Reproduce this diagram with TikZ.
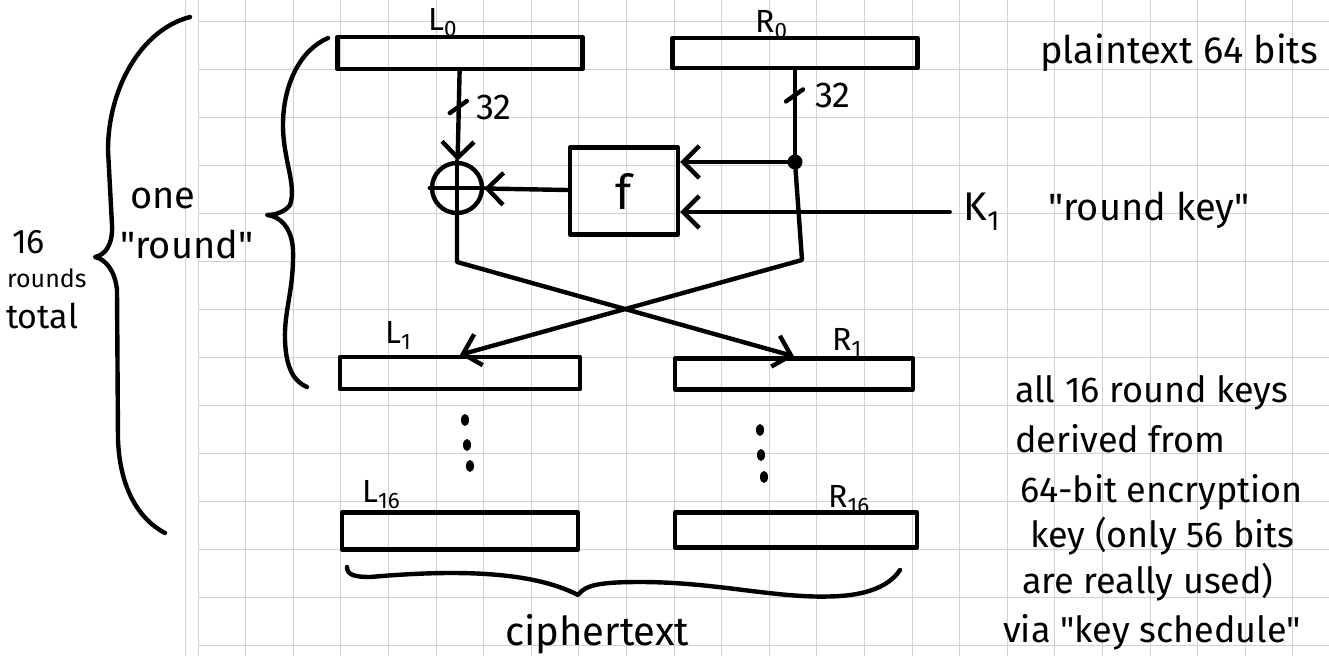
\documentclass[tikz,border=0pt]{standalone}
\usepackage{fontspec}
\setmainfont{Fira Sans}
\usetikzlibrary{arrows.meta, positioning}

\tikzset{
  hand/.style={line width=4.4pt, line cap=round, line join=round},
  reg/.style={draw, hand, minimum width=240pt, minimum height=32pt, inner sep=0pt},
  gridline/.style={black!18, line width=1pt},
  lbl/.style={font=\fontsize{32}{36}\selectfont, inner sep=0pt, anchor=base west},
  note/.style={font=\fontsize{36}{48}\selectfont, inner sep=0pt, anchor=base west},
}

\begin{document}
\begin{tikzpicture}[x=1pt, y=-1pt, >={Straight Barb[length=16pt, width=32pt]}]
  \fill[white] (0,0) rectangle (1329,656);
  \useasboundingbox (0,0) rectangle (1329,656);

  % graph paper
  \draw[gridline] (185,0) -- (185,656);
  \foreach \gx in {0,...,23}
    \draw[gridline] (198+47.6*\gx,0) -- (198+47.6*\gx,656);
  \foreach \gy in {0,...,13}
    \draw[gridline] (198,21+48*\gy) -- (1329,21+48*\gy);

  % halves of the block
  \node[reg, minimum width=245pt] (L0) at (460,53) {};
  \node[reg, minimum width=245pt, minimum height=30pt] (R0) at (795,53) {};
  \node[reg] (L1) at (460,373) {};
  \node[reg, minimum width=238pt, minimum height=31pt] (R1) at (794,374) {};
  \node[reg, minimum width=236pt, minimum height=37pt] (L16) at (460,531) {};
  \node[reg, minimum width=242pt, minimum height=35pt] (R16) at (796,530) {};

  \node[lbl] (lblL0) at (428,30) {L\textsubscript{0}};
  \node[lbl] (lblR0) at (755,32) {R\textsubscript{0}};
  \node[lbl] (lblL1) at (385,343) {L\textsubscript{1}};
  \node[lbl] (lblR1) at (832,350) {R\textsubscript{1}};
  \node[lbl] (lblL16) at (362,502) {L\textsubscript{16}};
  \node[lbl] (lblR16) at (828,507) {R\textsubscript{16}};

  % round function
  \node[draw, hand, circle, minimum size=50pt, inner sep=0pt] (xor) at (457,188) {};
  \draw[hand] (xor.west) -- (xor.east) (xor.north) -- (xor.south);
  \node[draw, hand, minimum width=108pt, minimum height=87pt,
        font=\fontsize{48}{48}\selectfont] (f) at (624,191) {f};
  \node[circle, fill, minimum size=15pt, inner sep=0pt] (split) at (795,162) {};
  \node[font=\fontsize{40}{40}\selectfont, inner xsep=14pt, inner ysep=0pt] (K1) at (982,212) {K\textsubscript{1}};
  \coordinate (bendL) at (457,262);
  \coordinate (bendR) at (802,260);

  \draw[hand, ->] (L0) -- coordinate[pos=0.4] (tickL) (xor);
  \draw[hand] (R0) -- coordinate[pos=0.3] (tickR) (split);
  \draw[hand] (tickL) ++(-9,6) -- ++(17,-12);
  \draw[hand] (tickR) ++(-9,6) -- ++(17,-12);
  \node[lbl, font=\fontsize{36}{40}\selectfont, anchor=west, right=17pt of tickL] (busL) {32};
  \node[lbl, font=\fontsize{36}{40}\selectfont, anchor=west, right=20pt of tickR] (busR) {32};

  \draw[hand, ->] (split) -- (split -| f.east);
  \draw[hand, ->] (K1) -- (K1 -| f.east);
  \draw[hand, ->] (f) -- (xor);
  \draw[hand, ->] (xor) -- (bendL) -- (R1.north);
  \draw[hand, ->] (split) -- (bendR) -- (L1.north);

  % dots between round 1 and round 16
  \foreach \dx/\dy in {465/420, 467/445, 470/466, 760/430, 761/455, 764/477}
    \fill (\dx,\dy) ellipse (4pt and 6pt);

  % braces
  \draw[hand] (190,17) .. controls (140,30) and (108,90) .. (108,150) -- (112,225)
    .. controls (113,245) and (105,255) .. (95,257)
    .. controls (105,259) and (115,270) .. (117,290) -- (118,440)
    .. controls (120,490) and (140,520) .. (165,533);
  \draw[hand] (328,38) .. controls (300,50) and (283,85) .. (283,125)
    .. controls (283,160) and (297,185) .. (290,205)
    .. controls (285,212) and (275,215) .. (267,215)
    .. controls (280,216) and (292,228) .. (293,250)
    .. controls (294,290) and (284,310) .. (285,340)
    .. controls (286,370) and (295,382) .. (307,387);
  \draw[hand] (347,567) .. controls (347,575) and (355,577) .. (370,577)
    .. controls (450,570) and (530,570) .. (578,595)
    .. controls (585,585) and (600,582) .. (640,582)
    .. controls (720,582) and (780,600) .. (840,596)
    .. controls (870,594) and (890,585) .. (900,570);

  % texts
  \node[note, font=\fontsize{34}{30}\selectfont] (sixteen) at (12,253) {16};
  \node[note, font=\fontsize{25}{30}\selectfont] (rounds) at (7,287) {rounds};
  \node[note, font=\fontsize{34}{30}\selectfont] (total) at (6,328) {total};
  \node[note, font=\fontsize{38}{48}\selectfont] (one) at (130,208) {one};
  \node[note, font=\fontsize{38}{48}\selectfont] (oneround) at (120,258) {\textquotedbl round\textquotedbl};
  \node[note, font=\fontsize{38}{48}\selectfont] (plain) at (1040,63) {plaintext 64 bits};
  \node[note, font=\fontsize{38}{48}\selectfont] (roundkey) at (1048,220) {\textquotedbl round key\textquotedbl};
  \node[note, font=\fontsize{40}{48}\selectfont] (cipher) at (505,645) {ciphertext};
  \foreach \tx/\ty/\tline in {1015/402/{all 16 round keys}, 1015/452/{derived from},
      1020/502/{64-bit encryption}, 1030/547/{key (only 56 bits},
      1022/593/{are really used)}, 1003/642/{via \textquotedbl key schedule\textquotedbl}}
    \node[note] at (\tx,\ty) {\tline};
\end{tikzpicture}
\end{document}
